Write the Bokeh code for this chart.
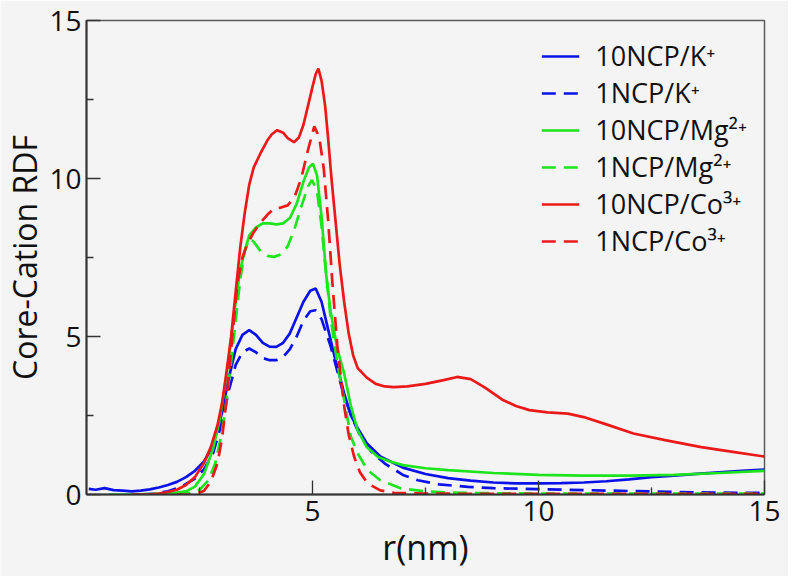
from bokeh.plotting import figure
from bokeh.models import FixedTicker, Range1d, Legend, LegendItem
from bokeh.embed import file_html
from bokeh.resources import INLINE

# ---------------- data ----------------
r_k10 = [0.05, 0.2, 0.4, 0.6, 0.8, 1.0, 1.2, 1.4, 1.6, 1.8, 2.0, 2.2, 2.4, 2.6, 2.8, 3.0, 3.15, 3.3,
         3.45, 3.6, 3.75, 3.9, 4.05, 4.2, 4.35, 4.5, 4.65, 4.8, 4.95, 5.07, 5.2, 5.35, 5.5, 5.7, 5.85,
         6.0, 6.2, 6.5, 7.0, 7.5, 8.0, 8.5, 9.0, 9.5, 10.0, 10.5, 11.0, 11.5, 12.0, 12.5, 13.0, 13.5,
         14.0, 14.5, 15.0]
g_k10 = [0.18, 0.15, 0.2, 0.14, 0.12, 0.1, 0.12, 0.16, 0.22, 0.3, 0.4, 0.55, 0.75, 1.05, 1.55, 2.6,
         3.7, 4.6, 5.05, 5.2, 5.05, 4.8, 4.68, 4.67, 4.8, 5.1, 5.6, 6.1, 6.45, 6.52, 6.1, 5.2, 4.3,
         3.2, 2.5, 2.1, 1.62, 1.2, 0.85, 0.65, 0.52, 0.44, 0.38, 0.35, 0.35, 0.36, 0.38, 0.42, 0.48,
         0.55, 0.6, 0.65, 0.7, 0.75, 0.79]

r_k1 = [1.2, 1.5, 1.8, 2.1, 2.4, 2.6, 2.8, 3.0, 3.15, 3.3, 3.45, 3.6, 3.75, 3.9, 4.05, 4.2, 4.35, 4.5,
        4.65, 4.8, 4.95, 5.07, 5.2, 5.4, 5.55, 5.7, 5.9, 6.07, 6.3, 6.6, 7.0, 7.33, 7.8, 8.44, 9.0,
        10.0, 11.0, 12.0, 13.0, 14.0, 15.0]
g_k1 = [0.0, 0.03, 0.1, 0.25, 0.5, 0.8, 1.3, 2.3, 3.3, 4.1, 4.5, 4.62, 4.5, 4.32, 4.25, 4.25, 4.35,
        4.6, 5.0, 5.5, 5.8, 5.83, 5.55, 4.7, 3.9, 3.1, 2.35, 1.82, 1.35, 0.98, 0.62, 0.45, 0.32,
        0.24, 0.2, 0.17, 0.14, 0.11, 0.08, 0.06, 0.05]

r_mg10 = [0.5, 1.0, 1.5, 1.8, 2.0, 2.2, 2.4, 2.6, 2.8, 2.95, 3.1, 3.2, 3.3, 3.4, 3.5, 3.6, 3.75, 3.9,
          4.05, 4.2, 4.35, 4.5, 4.65, 4.8, 4.92, 5.01, 5.1, 5.2, 5.3, 5.4, 5.55, 5.7, 5.85, 6.0, 6.2,
          6.45, 6.7, 7.0, 7.5, 8.0, 9.0, 10.0, 11.0, 12.0, 13.0, 14.0, 15.0]
g_mg10 = [0.0, 0.0, 0.02, 0.04, 0.06, 0.1, 0.25, 0.65, 1.45, 2.4, 3.8, 4.9, 6.1, 7.1, 7.7, 8.2, 8.45,
          8.58, 8.58, 8.55, 8.58, 8.75, 9.2, 9.9, 10.35, 10.47, 10.1, 8.8, 7.0, 5.8, 4.6, 3.83, 2.8,
          2.03, 1.5, 1.19, 1.05, 0.93, 0.83, 0.77, 0.68, 0.62, 0.6, 0.6, 0.62, 0.68, 0.75]

r_mg1 = [1.5, 2.0, 2.3, 2.5, 2.7, 2.85, 3.0, 3.1, 3.2, 3.3, 3.4, 3.5, 3.6, 3.7, 3.85, 4.0, 4.15, 4.3,
         4.45, 4.6, 4.75, 4.9, 4.99, 5.1, 5.2, 5.3, 5.4, 5.55, 5.7, 5.85, 6.0, 6.22, 6.5, 6.96, 7.5,
         8.0, 9.0, 10.0, 12.0, 15.0]
g_mg1 = [0.0, 0.01, 0.05, 0.15, 0.45, 1.0, 2.0, 3.0, 4.2, 5.5, 6.8, 7.7, 8.1, 8.0, 7.7, 7.55, 7.52,
         7.6, 7.85, 8.4, 9.1, 9.75, 9.95, 9.6, 8.5, 7.0, 5.6, 4.15, 3.0, 1.82, 1.3, 0.77, 0.45, 0.19,
         0.1, 0.06, 0.04, 0.03, 0.03, 0.03]

r_co10 = [1.0, 1.35, 1.6, 1.8, 2.0, 2.2, 2.4, 2.6, 2.75, 2.9, 3.0, 3.1, 3.2, 3.3, 3.4, 3.5, 3.6, 3.7,
          3.85, 4.0, 4.1, 4.22, 4.35, 4.45, 4.59, 4.7, 4.8, 4.9, 5.0, 5.07, 5.13, 5.2, 5.28, 5.35,
          5.42, 5.5, 5.6, 5.7, 5.8, 5.9, 6.0, 6.2, 6.4, 6.6, 6.8, 7.1, 7.5, 7.9, 8.2, 8.5, 8.8, 9.2,
          9.5, 9.8, 10.2, 10.65, 11.0, 11.5, 12.1, 12.8, 13.6, 14.3, 15.0]
g_co10 = [0.0, 0.0, 0.03, 0.08, 0.15, 0.3, 0.55, 1.0, 1.5, 2.2, 2.9, 3.9, 5.0, 6.4, 7.8, 8.9, 9.8,
          10.35, 10.8, 11.2, 11.4, 11.53, 11.45, 11.28, 11.15, 11.3, 11.7, 12.3, 12.9, 13.3, 13.48,
          13.1, 12.3, 11.2, 10.0, 8.8, 7.3, 6.1, 5.1, 4.4, 4.0, 3.7, 3.5, 3.42, 3.4, 3.42, 3.5, 3.62,
          3.72, 3.65, 3.4, 3.0, 2.8, 2.67, 2.6, 2.56, 2.45, 2.22, 1.93, 1.72, 1.5, 1.35, 1.2]

r_co1 = [2.0, 2.4, 2.6, 2.75, 2.9, 3.0, 3.1, 3.2, 3.34, 3.45, 3.55, 3.7, 3.85, 4.0, 4.15, 4.3, 4.45,
         4.6, 4.75, 4.9, 5.04, 5.15, 5.25, 5.35, 5.44, 5.55, 5.7, 5.8, 5.92, 6.05, 6.22, 6.5, 6.8,
         7.5, 8.5, 10.0, 12.0, 15.0]
g_co1 = [0.0, 0.0, 0.12, 0.4, 1.0, 1.8, 3.0, 4.6, 6.7, 7.5, 7.9, 8.3, 8.6, 8.85, 9.05, 9.08, 9.15,
         9.4, 10.0, 10.9, 11.65, 11.3, 10.3, 8.6, 6.7, 4.7, 2.8, 1.9, 1.2, 0.7, 0.35, 0.13, 0.05,
         0.03, 0.02, 0.02, 0.02, 0.02]

labels = ["10NCP/K\u207A", "1NCP/K\u207A", "10NCP/Mg\u00B2\u207A", "1NCP/Mg\u00B2\u207A",
          "10NCP/Co\u00B3\u207A", "1NCP/Co\u00B3\u207A"]
x_ticks = [5, 10, 15]
x_minor = [2.5, 7.5, 12.5]
y_ticks = [0, 5, 10, 15]
y_minor = [2.5, 7.5, 12.5]

BLUE = "#0b12e8"
GREEN = "#1ee41e"
RED = "#ea1a1a"
BG = "#f4f4f4"
FONT = "Open Sans"

p = figure(width=788, height=576, output_backend="svg", toolbar_location=None,
           x_range=Range1d(0, 15), y_range=Range1d(0, 15),
           min_border_left=85, min_border_top=20, min_border_right=24, min_border_bottom=82)
p.background_fill_color = BG
p.border_fill_color = BG
p.outline_line_color = "#5a5a5a"
p.outline_line_width = 1.5
p.grid.visible = False

series = [(r_k10, g_k10, BLUE, "solid"), (r_k1, g_k1, BLUE, "14 8"),
          (r_mg10, g_mg10, GREEN, "solid"), (r_mg1, g_mg1, GREEN, "14 8"),
          (r_co10, g_co10, RED, "solid"), (r_co1, g_co1, RED, "14 8")]
items = []
for (xs, ys, c, d), lab in zip(series, labels):
    rr = p.line(xs, ys, line_color=c, line_width=2.7, line_dash=d)
    items.append(LegendItem(label=lab, renderers=[rr]))

legend = Legend(items=items, location="top_right", border_line_color=None,
                background_fill_alpha=0, label_text_font=FONT, label_text_font_size="27px",
                label_text_color="#111111", label_text_line_height=1.05,
                glyph_width=38, glyph_height=20, label_height=20,
                spacing=-2, label_standoff=16, margin=17, padding=12)
p.add_layout(legend)

for ax, ticks, minor in ((p.xaxis[0], x_ticks, x_minor), (p.yaxis[0], y_ticks, y_minor)):
    ax.ticker = FixedTicker(ticks=ticks, minor_ticks=minor)
    ax.axis_line_color = "#333333"
    ax.axis_line_width = 2
    ax.major_tick_in = 14
    ax.major_tick_out = 0
    ax.minor_tick_in = 7
    ax.minor_tick_out = 0
    ax.major_tick_line_color = "#333333"
    ax.minor_tick_line_color = "#333333"
    ax.major_tick_line_width = 1.3
    ax.minor_tick_line_width = 1.3
    ax.major_label_text_font = FONT
    ax.major_label_text_font_size = "28px"
    ax.major_label_text_color = "#111111"
    ax.axis_label_text_font = FONT
    ax.axis_label_text_font_style = "normal"
    ax.axis_label_text_color = "#111111"
    ax.axis_label_text_line_height = 1.0

p.xaxis.axis_label = "r(nm)"
p.yaxis.axis_label = "Core-Cation RDF"
p.xaxis.axis_label_text_font_size = "34px"
p.yaxis.axis_label_text_font_size = "32px"
p.xaxis.major_label_standoff = 6
p.yaxis.major_label_standoff = 5
p.xaxis.axis_label_standoff = 0
p.yaxis.axis_label_standoff = 0

open("out.html", "w").write(file_html(p, INLINE))
